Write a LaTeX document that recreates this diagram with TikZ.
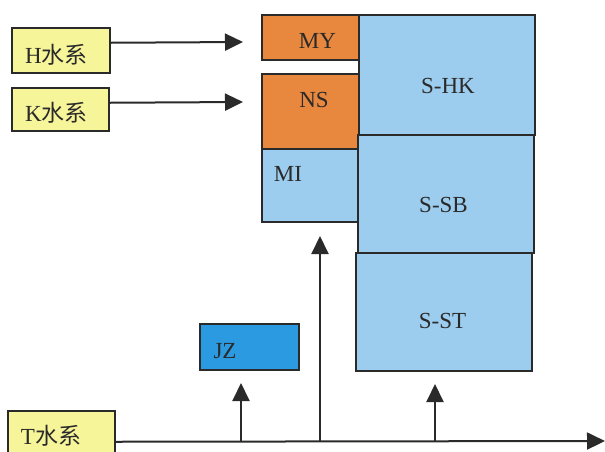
\documentclass[tikz,border=0pt]{standalone}
\usepackage{fontspec}
\setmainfont{Liberation Serif}
\newfontfamily\cjk{Noto Sans CJK SC}
\usetikzlibrary{arrows.meta}
\definecolor{ylw}{HTML}{F7F59A}
\definecolor{org}{HTML}{E8883F}
\definecolor{lblue}{HTML}{9DCDEE}
\definecolor{dblue}{HTML}{2B9AE0}
\definecolor{ink}{HTML}{2A2A2A}
\begin{document}
\begin{tikzpicture}[x=1pt,y=-1pt,
  box/.style={draw=ink, line width=1.5pt, inner sep=0pt, anchor=north west},
  lbl/.style={inner sep=0pt, anchor=base, text=ink, font=\fontsize{23}{27}\selectfont},
  flow/.style={draw=ink, line width=2pt, -{Triangle[length=18pt,width=17pt]}},
  plain/.style={draw=ink, line width=2pt}]
\useasboundingbox (0,0) rectangle (605,451);
% source boxes
\node[box, fill=ylw, minimum width=98pt, minimum height=45pt] (H) at (11,27) {};
\node[box, fill=ylw, minimum width=97pt, minimum height=43pt] (K) at (11,87) {};
\node[box, fill=ylw, minimum width=107pt, minimum height=50pt] (T) at (7,410) {};
% left column
\node[box, fill=org, minimum width=97pt, minimum height=45pt] (MY) at (261,14) {};
\node[box, fill=org, minimum width=97pt, minimum height=75pt] (NS) at (261,73) {};
\node[box, fill=lblue, minimum width=96pt, minimum height=73pt] (MI) at (261,148) {};
% right column
\node[box, fill=lblue, minimum width=176pt, minimum height=120pt] (SHK) at (358,14) {};
\node[box, fill=lblue, minimum width=176pt, minimum height=118pt] (SSB) at (357,134) {};
\node[box, fill=lblue, minimum width=176pt, minimum height=118pt] (SST) at (355,252) {};
% JZ
\node[box, fill=dblue, minimum width=99pt, minimum height=46pt] (JZ) at (199,323) {};
% labels
\node[lbl] (tH) at (56.5,63) {H{\cjk 水系}};
\node[lbl] (tK) at (56.5,121) {K{\cjk 水系}};
\node[lbl] (tT) at (51,444) {T{\cjk 水系}};
\node[lbl] (tMY) at (317.5,48) {MY};
\node[lbl] (tNS) at (314,107) {NS};
\node[lbl] (tMI) at (288,181) {MI};
\node[lbl] (tSHK) at (448,93) {S-HK};
\node[lbl] (tSSB) at (443.5,212) {S-SB};
\node[lbl] (tSST) at (442.5,328) {S-ST};
\node[lbl] (tJZ) at (225,358) {JZ};
% connector points
\coordinate (hEnd) at (243,42);
\coordinate (kEnd) at (243,102);
\coordinate (tEnd) at (605,441);
\coordinate (j1) at (241,441);
\coordinate (j2) at (320,441);
\coordinate (j3) at (435,441);
\coordinate (a1) at (241,383);
\coordinate (a2) at (320,236);
\coordinate (a3) at (435,384);
% connectors
\draw[flow] ([yshift=7.5pt]H.east) -- (hEnd);
\draw[flow] ([yshift=6.5pt]K.east) -- (kEnd);
\draw[flow] ([yshift=-6pt]T.east) -- (tEnd);
\draw[flow] (j1) -- (a1);
\draw[flow] (j2) -- (a2);
\draw[flow] (j3) -- (a3);
\end{tikzpicture}
\end{document}
